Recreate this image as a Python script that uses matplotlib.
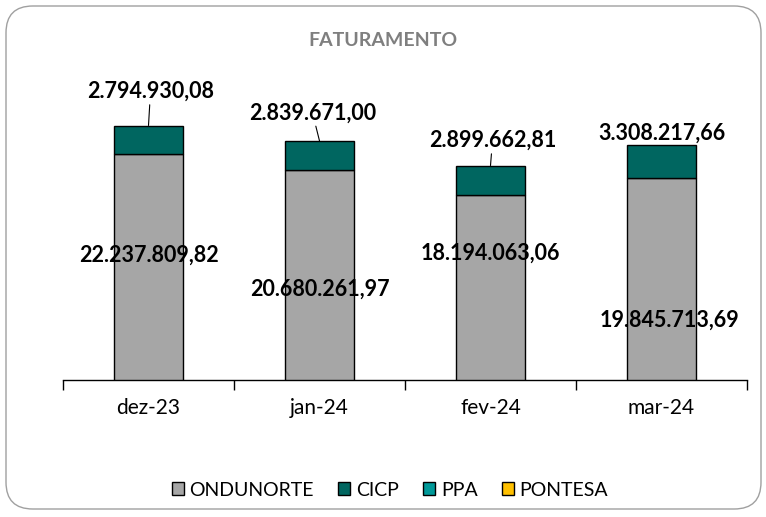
import matplotlib
matplotlib.use("Agg")
import matplotlib.pyplot as plt
from matplotlib.patches import FancyBboxPatch, Patch
import numpy as np

months = ["dez-23", "jan-24", "fev-24", "mar-24"]
ondunorte = [22237809.82, 20680261.97, 18194063.06, 19845713.69]
cicp = [2794930.08, 2839671.00, 2899662.81, 3308217.66]
ppa = [0, 0, 0, 0]
pontesa = [0, 0, 0, 0]
series_names = ["ONDUNORTE", "CICP", "PPA", "PONTESA"]
colors = ["#A6A6A6", "#006660", "#009999", "#FFC000"]

def fmt(v):
    s = f"{v:,.2f}"
    return s.replace(",", "X").replace(".", ",").replace("X", ".")

FONT = ["Lato", "DejaVu Sans"]

fig = plt.figure(figsize=(7.66, 5.17), dpi=100)
frame = FancyBboxPatch((6/766, 8/517), 755/766, 503/517,
                       boxstyle="round,pad=0,rounding_size=0.035",
                       transform=fig.transFigure, facecolor="white",
                       edgecolor="#A0A0A0", linewidth=1.0, zorder=-5,
                       mutation_aspect=766/517)
fig.patches.append(frame)

ax = fig.add_axes([63/766, (517-380)/517, (747-63)/766, (380-75)/517])
ax.set_zorder(2)
ax.patch.set_alpha(0)
x = np.arange(len(months))
w = 0.405
ax.bar(x, ondunorte, w, color=colors[0], edgecolor="black", linewidth=1.0, zorder=3)
ax.bar(x, cicp, w, bottom=ondunorte, color=colors[1], edgecolor="black", linewidth=1.0, zorder=3)

ax.set_ylim(0, 30000000)
ax.set_xlim(-0.5, len(months) - 0.5)
for s in ["left", "right", "top"]:
    ax.spines[s].set_visible(False)
ax.spines["bottom"].set_linewidth(1.0)
ax.set_yticks([])
ax.set_xticks(np.arange(-0.5, len(months), 1.0))
ax.set_xticklabels([])
ax.tick_params(axis="x", which="major", length=7, width=1.0, direction="out")
ax.set_xticks(x, minor=True)
ax.set_xticklabels(months, minor=True, fontsize=15, family=FONT)
ax.tick_params(axis="x", which="minor", length=0, pad=13)

# ONDUNORTE labels (offsets in pixels from segment middle)
ond_off = [(0, 12), (0, -14), (0, 34), (8, -41)]
for i, v in enumerate(ondunorte):
    ax.annotate(fmt(v), xy=(i, v / 2), xytext=ond_off[i], textcoords="offset pixels",
                ha="center", va="center", fontsize=15.5, fontweight="bold",
                family=FONT, zorder=5)

# CICP labels with leader lines
cicp_off = [(2, 34), (-7, 28), (2, 25), (0, 11)]
leader = [True, True, True, False]
for i, v in enumerate(cicp):
    top = ondunorte[i] + v
    ap = dict(arrowstyle="-", color="black", lw=0.8, shrinkA=0, shrinkB=0) if leader[i] else None
    ax.annotate(fmt(v), xy=(i + 0.0, top), xytext=cicp_off[i], textcoords="offset pixels",
                ha="center", va="center", fontsize=15.5, fontweight="bold",
                family=FONT, arrowprops=ap, zorder=5)

fig.text(0.5, (517-40)/517, "FATURAMENTO", ha="center", va="center",
         fontsize=14, fontweight="bold", color="#7F7F7F", family=FONT)

handles = [Patch(facecolor=c, edgecolor="black", linewidth=1.0) for c in colors]
fig.legend(handles, series_names, loc="center", bbox_to_anchor=(390/766, (517-490)/517),
           ncol=4, frameon=False, prop={"family": FONT, "size": 14},
           handlelength=0.62, handleheight=0.62, handletextpad=0.3, columnspacing=1.24)

fig.savefig("out.png", dpi=100)
